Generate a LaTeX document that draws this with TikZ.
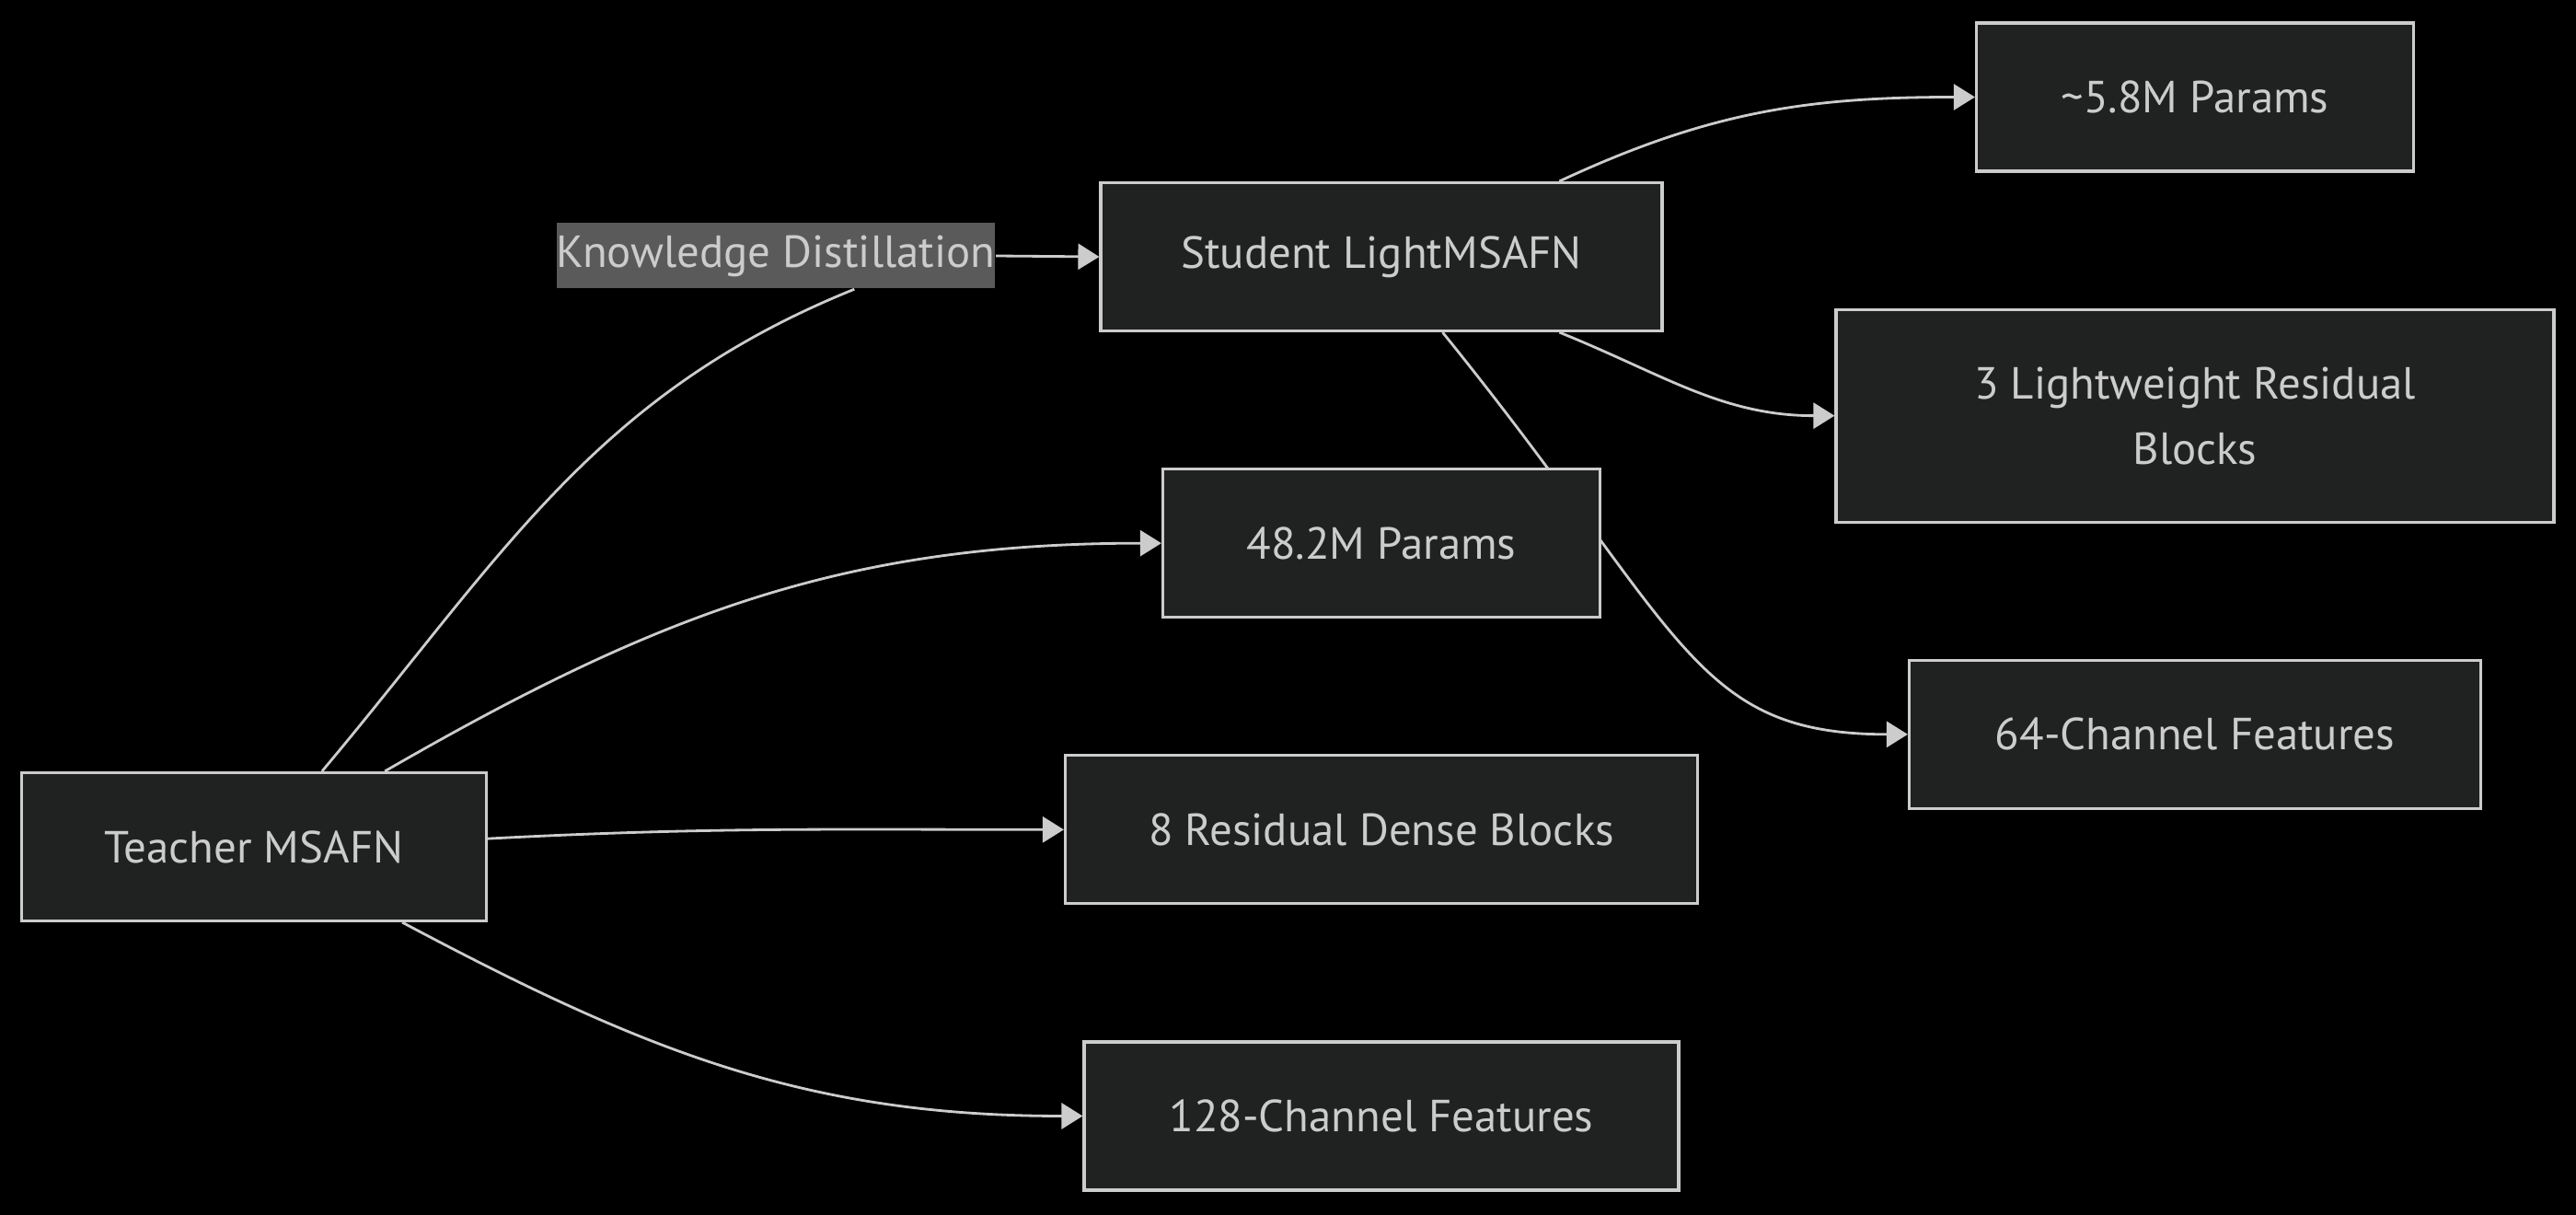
\documentclass[tikz,border=0pt]{standalone}
\usepackage{fontspec}
\setmainfont{PT Sans}
\usetikzlibrary{positioning,arrows.meta,backgrounds}
\definecolor{nodefill}{HTML}{202221}
\definecolor{linecol}{HTML}{CCCCCC}
\definecolor{labelfill}{HTML}{5A5A5A}

\begin{document}
\begin{tikzpicture}[
  box/.style={draw=linecol, fill=nodefill, text=linecol, line width=0.9pt, align=center, minimum height=1.61cm, font=\fontsize{13.9}{20.2}\selectfont},
  edgelabel/.style={fill=labelfill, text=linecol, inner xsep=0pt, inner ysep=0pt, minimum height=0.71cm, font=\fontsize{13.9}{20.2}\selectfont},
  link/.style={draw=linecol, line width=0.8pt},
  arrow/.style={link, -{Triangle[length=0.23cm, width=0.28cm]}}
]
\useasboundingbox (0,0) rectangle (27.99,-13.20);

\node[box, minimum width=5.05cm] (teacher) at (2.76,-9.20) {Teacher MSAFN};
\node[edgelabel] (kd) at (8.43,-2.78) {Knowledge Distillation};

\node[box, minimum width=6.10cm] (student) at (15.01,-2.79) {Student LightMSAFN};
\node[box, minimum width=4.75cm, below=1.47cm of student] (params48) {48.2M Params};
\node[box, minimum width=6.87cm, below=1.47cm of params48] (rdb) {8 Residual Dense Blocks};
\node[box, minimum width=6.46cm, below=1.47cm of rdb] (feat128) {128-Channel Features};

\node[box, minimum width=4.75cm] (params58) at (23.85,-1.055) {\textasciitilde5.8M Params};
\node[box, minimum width=7.80cm, minimum height=2.31cm, below=1.47cm of params58] (lrb) {3 Lightweight Residual\\Blocks};
\node[box, minimum width=6.21cm, below=1.47cm of lrb] (feat64) {64-Channel Features};

\begin{scope}[on background layer]
\fill[black] (0,0) rectangle (27.99,-13.20);
\draw[link] (teacher.48) to[out=50, in=-158] (kd.-23);
\draw[arrow] (kd.east) -- (student.west);
\draw[arrow] (teacher.30) to[out=30, in=180] (params48.west);
\draw[arrow] (teacher.2) to[out=3, in=180] (rdb.west);
\draw[arrow] (teacher.-27) to[out=-28, in=180] (feat128.west);
\draw[arrow] (student.23) to[out=25, in=180] (params58.west);
\draw[arrow] (student.-23) to[out=-22, in=180] (lrb.west);
\draw[arrow] (student.-51) to[out=-51, in=180, out looseness=1.6, in looseness=0.9] (feat64.west);
\end{scope}
\end{tikzpicture}
\end{document}
